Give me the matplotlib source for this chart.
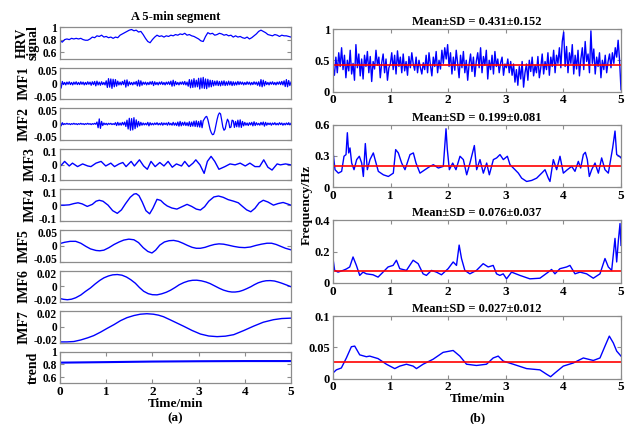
import numpy as np
import matplotlib
matplotlib.use('Agg')
import matplotlib.pyplot as plt
from matplotlib.transforms import ScaledTranslation

plt.rcParams['font.family'] = 'Liberation Serif'
plt.rcParams['font.weight'] = 'bold'
plt.rcParams['axes.titleweight'] = 'bold'
plt.rcParams['axes.labelweight'] = 'bold'

# ---- left panel: HRV signal and its IMFs ----
hrv = [0.78, 0.76, 0.80, 0.81, 0.80, 0.82, 0.81, 0.82, 0.81, 0.82, 0.80, 0.79, 0.79, 0.81, 0.84, 0.83,
       0.86, 0.85, 0.87, 0.84, 0.85, 0.83, 0.84, 0.82, 0.84, 0.83, 0.87, 0.89, 0.91, 0.93, 0.95, 0.96,
       0.94, 0.95, 0.92, 0.93, 0.88, 0.82, 0.77, 0.75, 0.80, 0.84, 0.87, 0.85, 0.86, 0.84, 0.86, 0.85,
       0.87, 0.86, 0.88, 0.87, 0.89, 0.88, 0.90, 0.87, 0.88, 0.86, 0.85, 0.83, 0.81, 0.78, 0.77, 0.85,
       0.91, 0.89, 0.90, 0.87, 0.88, 0.90, 0.89, 0.87, 0.88, 0.86, 0.87, 0.84, 0.86, 0.84, 0.85, 0.83,
       0.82, 0.84, 0.81, 0.83, 0.86, 0.89, 0.93, 0.95, 0.93, 0.91, 0.88, 0.87, 0.86, 0.88, 0.87, 0.85,
       0.87, 0.86, 0.86, 0.85, 0.84]

# IMF1 and IMF2 in units of 1e-3
imf1 = [0, -15, 6, -4, 3, -5, 4, -3, 5, -4, 3, -5, 4, -3, 5, -4, 3, -4, 5, -3, 4, -5, 3, -4, 5, -3, 4, -6, 5, -4,
        6, -8, 7, -5, 4, -6, 5, -4, 3, -5,
        8, -13, 15, -12, 14, -16, 13, -11, 12, -9, 7, -5, 4,
        -5, 6, -4, 10, -12, 11, -8, 5,
        -4, 3, -5, 4, -3, 6, -8,
        10, -9, 8, -6, 4,
        -3, 4, -5, 3, -4, 5, -3, 6, -7, 5, -4, 3, -5, 4, -3, 5, -4, 3, -5, 4, -3, 5, -4,
        7, -9, 10, -8, 6, -4, 3,
        -5, 4, -3, 5, -4, 6, -5, 4,
        -9, 12, -14, 11, -13, 15, -12, 10, -11, 16, -18, 17, -15, 19, -16, 14, -17, 13, -12, 10, -11, 9, -8, 7, -6,
        8, -7, 6, -8, 7, -6, 8, -7, 5, -6, 7, -5, 6, -7, 5, -6, 4, -5, 6, -4, 5, -3, 4, -5, 3,
        -4, 5, -3, 4, -5, 3, -4, 5, -3, 4, -6, 5,
        -9, 12, -11, 10, -8, 6,
        -4, 3, -5, 4, -3, 5, -4, 3, -5, 4, -3, 5, -4, 6, -5,
        8, -10, 12, -11, 9, -7, 4]

imf2 = [8, -6, 4, -2, 1,
        -1, 2, -1, 1, -2, 1, -1, 2, -1, 1, -2, 1, -1, 2, -1, 1, -2, 1, -1, 2, -1, 1, -2, 1, -1, 2, -1,
        6, -12, 16, -14, 8, -5, 3, -2,
        2, -3, 2, -1, 2, -2, 1, -2,
        4, -5, 5, -4, 3, -4, 5, -3,
        6, -8, 12, -16, 18, -20, 17, -19, 20, -15, 13, -10, 8, -6, 5, -4, 3, -3, 2, -3,
        5, -6, 4, -3, 2, -3, 3, -2,
        4, -3, 2, -3, 4, -4, 3, -2, 3, -4, 5, -3, 2,
        -4, 5, -4, 3, -5, 6, -7, 8, -6, 5, -4, 6, -5, 4, -6, 7, -8, 6, -7, 9, -8, 10, -9,
        8, -10, 11, -12, 10, 16, 22, 24, 14, -2, -18, -28, -34, -33, -22, -4, 14, 28, 35, 32,
        12, -10, -20, -16, 2, 15, 8, -12, -10, 12, 10, -11, 8, -9, 12, -10, 13, -11, 8, -6, 5,
        -4, 3, -5, 4, -3, 5, -6, 7, -5, 4, -3, 2, -4, 5, -3,
        6, -7, 5, -4, 3, -2,
        3, -4, 3, -2, 4, -3, 2, -3, 4, -2, 3, -4, 2, -3, 3, -2, 4, -3, 2]

imf3_t = [0, 0.10, 0.20, 0.27, 0.38, 0.49, 0.60, 0.67, 0.78, 0.89, 0.99, 1.10, 1.18, 1.28, 1.36, 1.43,
          1.54, 1.61, 1.72, 1.81, 1.89, 1.97, 2.06, 2.16, 2.25, 2.34, 2.43, 2.52, 2.63, 2.70, 2.79, 2.88,
          2.94, 3.03, 3.12, 3.19, 3.27, 3.35, 3.44, 3.57, 3.68, 3.79, 3.90, 4.01, 4.11, 4.22, 4.32, 4.41,
          4.50, 4.59, 4.70, 4.77, 4.88, 5.00]
imf3 = [-0.013, 0.020, -0.009, 0.009, -0.013, 0.004, -0.009, -0.013, 0.009, 0.020, -0.009, 0.009,
        -0.013, 0.004, 0.013, -0.013, 0.020, -0.009, 0.030, -0.009, -0.030, 0.020, -0.013, 0.013,
        -0.009, 0.020, -0.017, 0.004, -0.009, 0.020, -0.013, 0.009, 0.030, -0.002, -0.056, 0.020,
        0.052, 0.020, -0.030, -0.013, 0.004, -0.002, 0.009, -0.009, 0.009, -0.013, -0.013, 0.030,
        -0.017, -0.035, 0.004, -0.002, 0.004, -0.002]

imf4_t = [0.0, 0.1, 0.2, 0.3, 0.39, 0.48, 0.59, 0.7, 0.78, 0.85, 0.93, 1.04, 1.14, 1.24, 1.33, 1.42,
          1.52, 1.6, 1.65, 1.71, 1.78, 1.86, 1.94, 2.01, 2.10, 2.18, 2.25, 2.32, 2.42, 2.53, 2.64, 2.75,
          2.85, 2.95, 3.04, 3.13, 3.22, 3.33, 3.43, 3.53, 3.64, 3.76, 3.86, 3.95, 4.04, 4.13, 4.22, 4.31,
          4.40, 4.50, 4.62, 4.72, 4.83, 4.92, 5.0]
imf4 = [0.000, 0.000, 0.002, 0.010, 0.015, 0.008, -0.008, 0.005, 0.025, 0.031, 0.025, 0.000, -0.035,
        -0.052, -0.030, 0.010, 0.050, 0.070, 0.073, 0.060, 0.020, -0.035, -0.055, -0.020, 0.037, 0.030,
        0.010, -0.005, -0.018, -0.025, -0.010, 0.005, -0.008, -0.025, -0.031, -0.010, 0.025, 0.052,
        0.058, 0.050, 0.035, 0.025, 0.015, -0.008, -0.030, -0.042, -0.020, 0.015, 0.031, 0.020, 0.000,
        0.010, 0.017, 0.008, 0.000]

imf5_t = [0.0, 0.1, 0.22, 0.34, 0.45, 0.56, 0.66, 0.78, 0.86, 0.95, 1.06, 1.17, 1.28, 1.38, 1.49, 1.60,
          1.70, 1.80, 1.90, 1.99, 2.07, 2.16, 2.26, 2.36, 2.46, 2.56, 2.66, 2.76, 2.86, 2.95, 3.04, 3.14,
          3.24, 3.34, 3.44, 3.54, 3.64, 3.76, 3.88, 4.0, 4.12, 4.24, 4.36, 4.48, 4.58, 4.68, 4.78, 4.88, 5.0]
imf5 = [0.007, 0.011, 0.014, 0.014, 0.008, -0.002, -0.010, -0.015, -0.016, -0.014, -0.006, 0.004,
        0.012, 0.018, 0.021, 0.019, 0.010, -0.006, -0.018, -0.023, -0.014, 0.002, 0.012, 0.016, 0.017,
        0.014, 0.008, 0.001, -0.005, -0.008, -0.008, -0.005, 0.000, 0.004, 0.006, 0.005, 0.002, -0.002,
        -0.005, -0.006, -0.004, 0.001, 0.005, 0.008, 0.008, 0.004, -0.002, -0.008, -0.013]

imf6_t = [0.0, 0.08, 0.16, 0.25, 0.34, 0.45, 0.55, 0.66, 0.76, 0.86, 0.95, 1.05, 1.14, 1.24, 1.34, 1.44,
          1.53, 1.63, 1.72, 1.81, 1.91, 2.0, 2.10, 2.2, 2.3, 2.39, 2.49, 2.58, 2.68, 2.78, 2.87, 2.96,
          3.06, 3.16, 3.25, 3.35, 3.45, 3.54, 3.64, 3.72, 3.79, 3.88, 3.96, 4.04, 4.13, 4.21, 4.29, 4.38,
          4.46, 4.55, 4.64, 4.72, 4.80, 4.9, 5.0]
imf6 = [-0.0155, -0.0165, -0.0170, -0.0163, -0.0145, -0.0110, -0.0065, -0.0020, 0.0030, 0.0075, 0.0108,
        0.0132, 0.0146, 0.0150, 0.0142, 0.0118, 0.0085, 0.0040, -0.0015, -0.0062, -0.0093, -0.0106,
        -0.0108, -0.0095, -0.0075, -0.0050, -0.0015, 0.0020, 0.0048, 0.0068, 0.0077, 0.0078, 0.0070,
        0.0055, 0.0035, 0.0005, -0.0025, -0.0048, -0.0065, -0.0072, -0.0072, -0.0065, -0.0050, -0.0030,
        -0.0005, 0.0022, 0.0045, 0.0062, 0.0071, 0.0073, 0.0068, 0.0055, 0.0040, 0.0018, -0.0005]

imf7_t = [0.0, 0.15, 0.30, 0.45, 0.6, 0.73, 0.88, 1.02, 1.17, 1.31, 1.45, 1.60, 1.74, 1.88, 2.02, 2.13,
          2.24, 2.38, 2.53, 2.68, 2.86, 3.04, 3.22, 3.40, 3.58, 3.76, 3.98, 4.19, 4.40, 4.62, 4.80, 5.0]
imf7 = [-0.0190, -0.0190, -0.0185, -0.0165, -0.0138, -0.0110, -0.0065, -0.0018, 0.0030, 0.0080, 0.0118,
        0.0145, 0.0162, 0.0168, 0.0162, 0.0150, 0.0130, 0.0092, 0.0050, 0.0008, -0.0045, -0.0090,
        -0.0115, -0.0123, -0.0117, -0.0098, -0.0045, 0.0010, 0.0060, 0.0092, 0.0107, 0.0112]

trend_t = [0, 1, 2, 3, 4, 5]
trend = [0.828, 0.836, 0.845, 0.850, 0.853, 0.853]

left_names = ['HRV\nsignal', 'IMF1', 'IMF2', 'IMF3', 'IMF4', 'IMF5', 'IMF6', 'IMF7', 'trend']
left_ylims = [(0.5, 1), (-0.05, 0.05), (-0.05, 0.05), (-0.1, 0.1), (-0.1, 0.1), (-0.05, 0.05),
              (-0.02, 0.02), (-0.02, 0.02), (0.5, 1)]
left_yticks = [[0.6, 0.8, 1], [-0.05, 0, 0.05], [-0.05, 0, 0.05], [-0.1, 0, 0.1], [-0.1, 0, 0.1],
               [-0.05, 0, 0.05], [-0.02, 0, 0.02], [-0.02, 0, 0.02], [0.6, 0.8, 1]]
left_ytlabels = [['0.6', '0.8', '1'], ['-0.05', '0', '0.05'], ['-0.05', '0', '0.05'], ['-0.1', '0', '0.1'],
                 ['-0.1', '0', '0.1'], ['-0.05', '0', '0.05'], ['-0.02', '0', '0.02'],
                 ['-0.02', '0', '0.02'], ['0.6', '0.8', '1']]

# ---- right panel: instantaneous frequency of IMF1..IMF4 ----
freq1 = [38, 26, 55, 30, 62, 40, 70, 35, 58, 22, 50, 33, 66, 28, 45, 18, 75, 38, 60, 25, 52,
         20, 58, 40, 64, 30, 56, 16, 48, 36, 66, 42, 55, 22, 46, 60, 30, 52, 18, 38, 44,
         62, 35, 58, 28, 65, 40, 55, 30, 60, 33, 48, 26, 56, 38, 62, 44, 34, 55, 30, 50,
         38, 28, 46, 35, 58, 30, 62, 42, 25, 55, 40, 64, 30, 50, 36, 66, 45, 70, 52, 75,
         40, 62, 28, 55, 34, 66, 45, 22, 58, 38, 64, 30, 50, 18, 44, 60, 32, 55, 24, 48,
         62, 38, 70, 30, 56, 42, 66, 20, 50, 35, 58, 28, 64, 40, 52, 30, 46, 55, 26, 44,
         38, 52, 30, 48, 26, 44, 15, 35, 10, 40, 20, 48, 7, 30, 44, 18, 50, 32, 55, 25,
         42, 30, 56, 22, 38, 60, 28, 48, 35, 62, 26, 55, 40, 66, 30, 58, 45, 70, 38, 80,
         95, 40, 72, 30, 62, 45, 75, 28, 58, 36, 66, 25, 52, 70, 35, 80, 48, 60, 30, 97,
         45, 68, 28, 55, 40, 62, 22, 50, 35, 58, 30, 48, 60, 38, 62, 45, 70, 55, 82, 50, 3]

freq2_t = [0.000, 0.035, 0.093, 0.150, 0.191, 0.226, 0.249, 0.272, 0.295, 0.324, 0.365, 0.411, 0.457,
           0.498, 0.527, 0.561, 0.596, 0.642, 0.700, 0.747, 0.787, 0.874, 0.961, 1.047, 1.088, 1.134,
           1.192, 1.250, 1.337, 1.395, 1.441, 1.510, 1.597, 1.684, 1.742, 1.829, 1.915, 1.962, 1.985,
           2.020, 2.078, 2.135, 2.205, 2.263, 2.321, 2.378, 2.454, 2.494, 2.552, 2.610, 2.668, 2.714,
           2.784, 2.841, 2.899, 2.957, 3.027, 3.073, 3.160, 3.218, 3.275, 3.362, 3.449, 3.536, 3.623,
           3.681, 3.738, 3.767, 3.825, 3.883, 3.941, 3.999, 4.068, 4.144, 4.201, 4.259, 4.300, 4.346,
           4.381, 4.415, 4.450, 4.491, 4.549, 4.607, 4.664, 4.722, 4.780, 4.855, 4.896, 4.925, 4.971, 5.000]
freq2 = [0.345, 0.168, 0.135, 0.152, 0.297, 0.313, 0.523, 0.329, 0.377, 0.232, 0.168, 0.265, 0.297,
         0.232, 0.103, 0.419, 0.168, 0.265, 0.329, 0.232, 0.152, 0.119, 0.103, 0.135, 0.361, 0.329,
         0.232, 0.168, 0.313, 0.329, 0.232, 0.135, 0.168, 0.200, 0.216, 0.184, 0.200, 0.561, 0.361,
         0.168, 0.232, 0.168, 0.297, 0.265, 0.119, 0.232, 0.400, 0.168, 0.265, 0.135, 0.232, 0.119,
         0.265, 0.281, 0.313, 0.265, 0.297, 0.216, 0.168, 0.135, 0.087, 0.055, 0.065, 0.087, 0.135,
         0.168, 0.087, 0.055, 0.265, 0.168, 0.297, 0.135, 0.168, 0.200, 0.152, 0.248, 0.184, 0.313,
         0.335, 0.265, 0.103, 0.168, 0.232, 0.135, 0.281, 0.168, 0.135, 0.377, 0.539, 0.313, 0.297, 0.281]

freq3_t = [0.000, 0.029, 0.087, 0.174, 0.232, 0.290, 0.348, 0.406, 0.464, 0.521, 0.579, 0.695, 0.782,
           0.869, 0.956, 1.043, 1.101, 1.159, 1.275, 1.391, 1.478, 1.564, 1.622, 1.709, 1.796, 1.883,
           1.999, 2.086, 2.144, 2.190, 2.231, 2.289, 2.376, 2.491, 2.607, 2.694, 2.781, 2.839, 2.897,
           2.955, 3.013, 3.100, 3.245, 3.418, 3.592, 3.737, 3.795, 3.853, 3.940, 4.056, 4.114, 4.201,
           4.288, 4.403, 4.519, 4.635, 4.722, 4.780, 4.838, 4.896, 4.925, 4.954, 4.983, 5.000]
freq3 = [0.156, 0.080, 0.069, 0.080, 0.089, 0.102, 0.166, 0.112, 0.048, 0.069, 0.058, 0.052, 0.037,
         0.069, 0.102, 0.112, 0.145, 0.091, 0.080, 0.145, 0.123, 0.058, 0.048, 0.080, 0.069, 0.052,
         0.091, 0.134, 0.112, 0.242, 0.156, 0.080, 0.058, 0.080, 0.123, 0.102, 0.112, 0.058, 0.048,
         0.058, 0.026, 0.069, 0.048, 0.026, 0.030, 0.069, 0.086, 0.058, 0.091, 0.102, 0.112, 0.058,
         0.069, 0.058, 0.030, 0.058, 0.156, 0.102, 0.080, 0.285, 0.134, 0.270, 0.380, 0.240]

freq4_t = [0.000, 0.058, 0.145, 0.232, 0.319, 0.377, 0.464, 0.579, 0.637, 0.782, 0.927, 1.072, 1.159,
           1.275, 1.391, 1.449, 1.564, 1.738, 1.912, 2.086, 2.202, 2.318, 2.491, 2.665, 2.781, 2.868,
           2.955, 3.129, 3.361, 3.592, 3.708, 3.778, 3.853, 3.998, 4.172, 4.346, 4.519, 4.635, 4.722,
           4.797, 4.867, 4.925, 5.000]
freq4 = [0.009, 0.014, 0.017, 0.033, 0.051, 0.052, 0.038, 0.035, 0.036, 0.032, 0.023, 0.016, 0.020,
         0.023, 0.020, 0.016, 0.023, 0.031, 0.042, 0.045, 0.036, 0.023, 0.021, 0.023, 0.033, 0.036,
         0.028, 0.023, 0.016, 0.014, 0.007, 0.003, 0.009, 0.020, 0.025, 0.033, 0.029, 0.033, 0.052,
         0.068, 0.057, 0.044, 0.036]

means = [0.431, 0.199, 0.076, 0.027]
sds = [0.152, 0.081, 0.037, 0.012]
right_ylims = [(0, 1), (0, 0.6), (0, 0.4), (0, 0.1)]
right_yticks = [[0, 0.5, 1], [0, 0.3, 0.6], [0, 0.2, 0.4], [0, 0.05, 0.1]]
right_ytlabels = [['0', '0.5', '1'], ['0', '0.3', '0.6'], ['0', '0.2', '0.4'], ['0', '0.05', '0.1']]
xticks = [0, 1, 2, 3, 4, 5]

W, H = 635, 424
fig = plt.figure(figsize=(W / 100, H / 100), dpi=100)
grey = '#8c8c8c'
blue = '#0000ff'


def style(ax, xt=True, ls=9):
    for s in ax.spines.values():
        s.set_color(grey)
        s.set_linewidth(0.9)
    ax.tick_params(direction='in', length=3, width=0.8, color=grey, labelsize=ls,
                   top=xt, right=True, bottom=xt, pad=2)
    ax.set_xlim(0, 5)
    if xt:
        ax.set_xticks(xticks)
    else:
        ax.set_xticks([])


left_x = [np.linspace(0, 5, len(hrv)), np.linspace(0, 5, len(imf1)), np.linspace(0, 5, len(imf2)),
          imf3_t, imf4_t, imf5_t, imf6_t, imf7_t, trend_t]
left_y = [hrv, np.array(imf1) / 1000, np.array(imf2) / 1000, imf3, imf4, imf5, imf6, imf7, trend]

# small nudges so stacked tick labels of neighbouring axes don't collide
up = ScaledTranslation(0, 2.0 / 72, fig.dpi_scale_trans)
down = ScaledTranslation(0, -2.0 / 72, fig.dpi_scale_trans)

for i in range(9):
    top = 27 + i * 40.6
    ax = fig.add_axes([60 / W, 1 - (top + 31.5) / H, 231 / W, 31.5 / H])
    lw = 0.9 if i < 3 else 1.0
    if i == 8:
        lw = 1.5
    ax.plot(left_x[i], left_y[i], color=blue, lw=lw)
    ax.set_ylim(*left_ylims[i])
    ax.set_yticks(left_yticks[i])
    ax.set_yticklabels(left_ytlabels[i])
    last = i == 8
    style(ax, xt=last, ls=8.3)
    labs = ax.get_yticklabels()
    if 0 < i < 8:
        labs[-1].set_transform(labs[-1].get_transform() + down)
        labs[0].set_transform(labs[0].get_transform() + up)
    ax.set_ylabel(left_names[i], fontsize=10, labelpad=2, linespacing=0.85)
    if i == 0:
        ax.set_title('A 5-min segment', fontsize=9, pad=5)
    if last:
        ax.set_xticklabels([str(v) for v in xticks], fontsize=9.5)
        ax.set_xlabel('Time/min', fontsize=9.5, labelpad=0)

right_x = [np.linspace(0, 5, len(freq1)), freq2_t, freq3_t, freq4_t]
right_y = [np.array(freq1) / 100, freq2, freq3, freq4]

for i in range(4):
    top = 29 + i * 95.7
    ax = fig.add_axes([333 / W, 1 - (top + 62.5) / H, 288 / W, 62.5 / H])
    ax.plot(right_x[i], right_y[i], color=blue, lw=1.0)
    ax.axhline(means[i], color='red', lw=1.2)
    ax.set_ylim(*right_ylims[i])
    ax.set_yticks(right_yticks[i])
    ax.set_yticklabels(right_ytlabels[i])
    style(ax)
    ax.set_xticklabels([str(v) for v in xticks], fontsize=9.5)
    ax.set_title('Mean\u00b1SD = %.3f\u00b1%.3f' % (means[i], sds[i]), fontsize=9, pad=3)
    if i == 3:
        ax.set_xlabel('Time/min', fontsize=9.5, labelpad=0)

fig.text(307 / W, 1 - 205 / H, 'Frequency/Hz', rotation=90, ha='center', va='center', fontsize=9.5)
fig.text(175 / W, 1 - 418 / H, '(a)', ha='center', va='center', fontsize=9.5)
fig.text(477 / W, 1 - 418 / H, '(b)', ha='center', va='center', fontsize=9.5)

fig.savefig('out.png', dpi=100)
